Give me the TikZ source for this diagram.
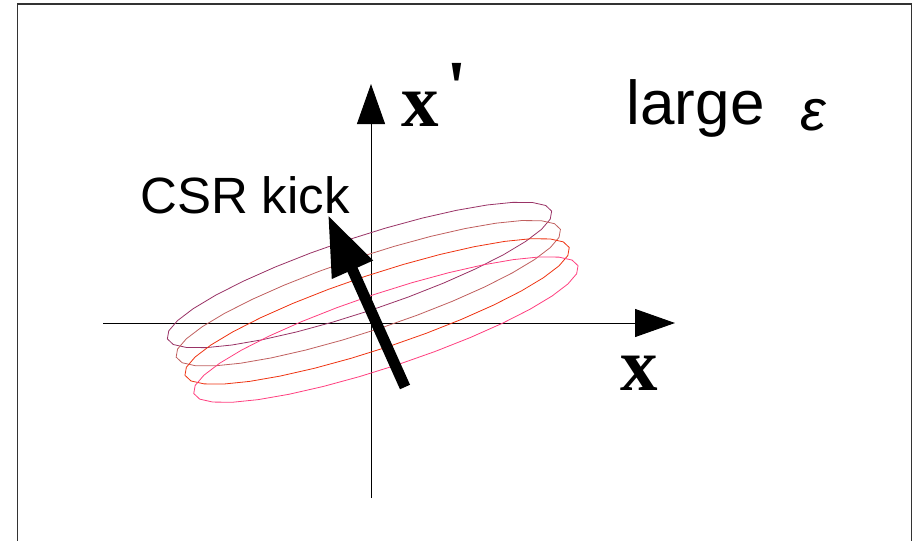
\documentclass[tikz,border=0pt]{standalone}
\usepackage{fontspec}
\setmainfont{Liberation Serif}
\setsansfont{Liberation Sans}
\usetikzlibrary{arrows.meta}
\definecolor{ellA}{HTML}{993366}
\definecolor{ellB}{HTML}{C0605F}
\definecolor{ellC}{HTML}{EE3311}
\definecolor{ellD}{HTML}{FF3F7F}
\newcommand\phaseell[3]{\draw[ell,#3] plot[samples=32,domain=0:348.75,variable=\t]
  ({#1+202.5*cos(\t)*0.9489+37*sin(\t)*0.3156},{#2-202.5*cos(\t)*0.3156+37*sin(\t)*0.9489}) -- cycle;}
\begin{document}
\begin{tikzpicture}[x=1pt,y=-1pt,
  axis/.style={line width=1pt, -{Triangle[length=40pt,width=28pt]}},
  kick/.style={line width=11pt, -{Triangle[length=60pt,width=42pt]}},
  ell/.style={line width=0.8pt},
  lbl/.style={inner sep=0pt, anchor=base west}]
\useasboundingbox (0,0) rectangle (914,541);
% frame
\draw[line width=1.6pt, black!80] (17.5,541) -- (17.5,4) -- (911.5,4) -- (911.5,541);
% axes
\coordinate (xs) at (103,323);
\coordinate (xe) at (675,323);
\coordinate (ys) at (371,498);
\coordinate (ye) at (371,84);
\draw[axis] (xs) -- (xe);
\draw[axis] (ys) -- (ye);
% ellipses
\phaseell{359.5}{275}{ellA}
\phaseell{368.3}{293.2}{ellB}
\phaseell{377.1}{311.4}{ellC}
\phaseell{385.9}{329.6}{ellD}
% kick
\coordinate (kt) at (405,387);
\coordinate (kh) at (328,215);
\draw[kick] (kt) -- (kh);
% labels
\node[lbl, font=\sffamily\fontsize{51}{51}\selectfont] (csr) at (140,213) {CSR kick};
\node[lbl, font=\sffamily\fontsize{62}{62}\selectfont] (large) at (626.5,124) {large};
\node[lbl, font=\sffamily\itshape\fontsize{58}{58}\selectfont] (eps) at (800,130) {ε};
\node[lbl, font=\bfseries\fontsize{75}{75}\selectfont] (xp) at (401,126) {x\hspace{8pt}\raisebox{14pt}{\textquotesingle}};
\node[lbl, font=\bfseries\fontsize{75}{75}\selectfont] (xl) at (620.5,390) {x};
\end{tikzpicture}
\end{document}
